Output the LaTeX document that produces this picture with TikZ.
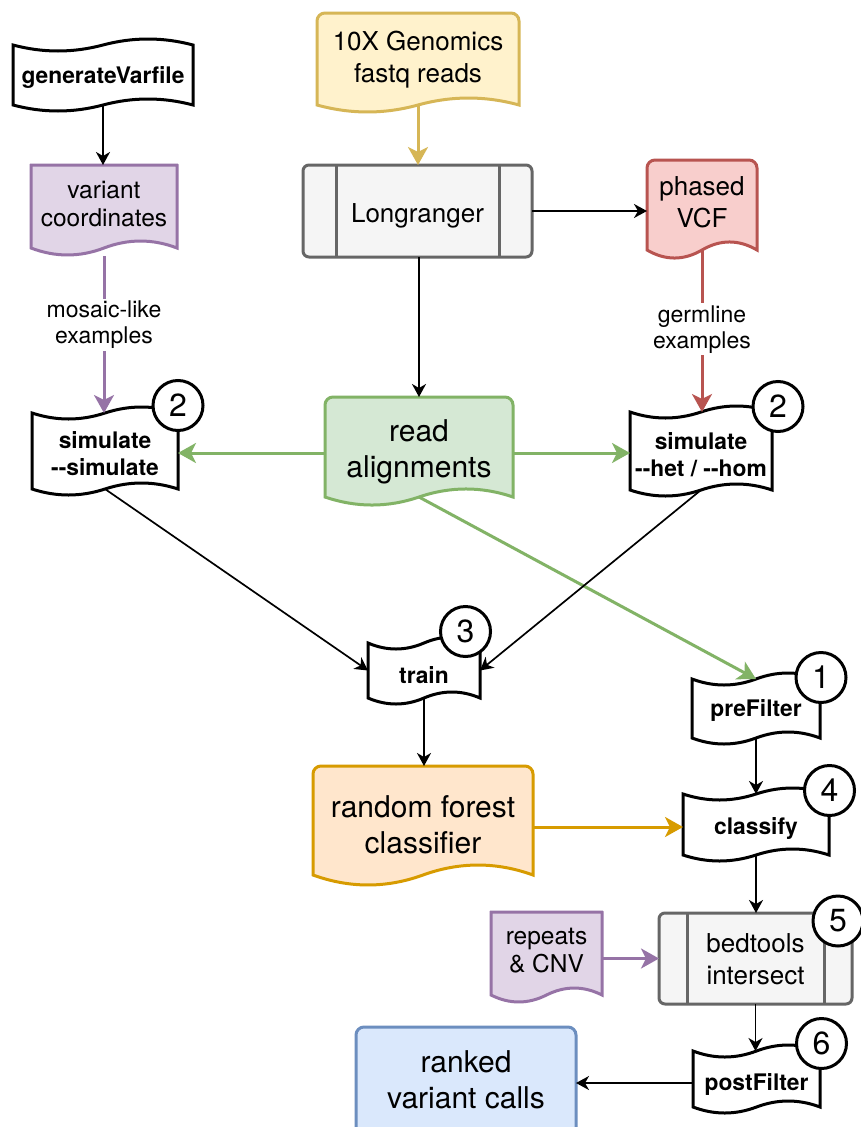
\documentclass[tikz,border=0pt]{standalone}
\usepackage{fontspec}
\setmainfont{TeX Gyre Heros}
\usetikzlibrary{calc,arrows.meta,backgrounds}
\definecolor{purF}{HTML}{E1D5E7}\definecolor{purD}{HTML}{9673A6}
\definecolor{yelF}{HTML}{FFF2CC}\definecolor{yelD}{HTML}{D6B656}
\definecolor{gryF}{HTML}{F5F5F5}\definecolor{gryD}{HTML}{666666}
\definecolor{redF}{HTML}{F8CECC}\definecolor{redD}{HTML}{B85450}
\definecolor{grnF}{HTML}{D5E8D4}\definecolor{grnD}{HTML}{82B366}
\definecolor{orgF}{HTML}{FFE6CC}\definecolor{orgD}{HTML}{D79B00}
\definecolor{bluF}{HTML}{DAE8FC}\definecolor{bluD}{HTML}{6C8EBF}
% tape: #1 node, #2 wave control offset
\newcommand\tapeshape[2]{%
  \path[tapebox] (#1.north west)
   .. controls ($(#1.north west)!1/6!(#1.north east)+(0,#2)$) and ($(#1.north west)!1/3!(#1.north east)+(0,#2)$) .. (#1.north)
   .. controls ($(#1.north west)!2/3!(#1.north east)+(0,-#2)$) and ($(#1.north west)!5/6!(#1.north east)+(0,-#2)$) .. (#1.north east)
   -- (#1.south east)
   .. controls ($(#1.south east)!1/6!(#1.south west)+(0,-#2)$) and ($(#1.south east)!1/3!(#1.south west)+(0,-#2)$) .. (#1.south)
   .. controls ($(#1.south east)!2/3!(#1.south west)+(0,#2)$) and ($(#1.south east)!5/6!(#1.south west)+(0,#2)$) .. (#1.south west)
   -- cycle;}
% document: #1 style, #2 node, #3 wave control offset, #4 corner radius
\newcommand\docshape[4]{%
  \path[#1] (#2.south west) -- ($(#2.north west)+(0,#4)$)
   arc[start angle=180,end angle=90,radius=#4pt] -- ($(#2.north east)+(-#4,0)$)
   arc[start angle=90,end angle=0,radius=#4pt] -- (#2.south east)
   .. controls ($(#2.south east)!1/6!(#2.south west)+(0,-#3)$) and ($(#2.south east)!1/3!(#2.south west)+(0,-#3)$) .. (#2.south)
   .. controls ($(#2.south east)!2/3!(#2.south west)+(0,#3)$) and ($(#2.south east)!5/6!(#2.south west)+(0,#3)$) .. (#2.south west)
   -- cycle;}
\tikzset{
  shp/.style 2 args={rectangle,inner sep=0pt,outer sep=0pt,minimum width=#1pt,minimum height=#2pt},
  boldtxt/.style={align=center,font=\bfseries\fontsize{22.8}{27}\selectfont,inner sep=0pt},
  bigtxt/.style={align=center,font=\fontsize{30}{36}\selectfont,inner sep=0pt},
  medtxt/.style={align=center,font=\fontsize{26}{32}\selectfont,inner sep=0pt},
  smtxt/.style={align=center,font=\fontsize{24.5}{28}\selectfont,inner sep=0pt},
  elabel/.style={fill=white,align=center,font=\fontsize{23}{26}\selectfont,inner sep=2pt},
  tapebox/.style={draw=black,fill=white,line width=3pt},
  docbox/.style 2 args={draw=#1,fill=#2,line width=3pt},
  badge/.style={circle,draw=black,fill=white,line width=3pt,minimum size=50pt,inner sep=0pt,font=\fontsize{32}{38}\selectfont},
  procbox/.style={draw=gryD,fill=gryF,line width=3pt,rounded corners=6pt},
  procline/.style={draw=gryD,line width=3pt},
  conn/.style={draw=black,line width=1.7pt,-{Stealth[length=13pt,width=14pt,inset=4pt]}},
  cconn/.style={draw=#1,line width=3pt,-{Stealth[length=18pt,width=20pt,inset=5pt]}},
}
\begin{document}
\begin{tikzpicture}[x=1pt,y=-1pt]
\useasboundingbox (0,0) rectangle (860,1127);
% nodes
\node[shp={180}{60},label={[boldtxt,yshift=-2.5pt]center:generateVarfile}] (gen) at (103,75) {};
\node[shp={146}{83},label={[smtxt,yshift=2pt]center:variant\\coordinates}] (varc) at (104,206.5) {};
\node[shp={202}{92},label={[medtxt,yshift=-0.5pt]center:10X Genomics\\fastq reads}] (tenx) at (418,59) {};
\node[procbox,shp={229}{92},label={[medtxt,yshift=-5pt]center:Longranger}] (longr) at (417.5,211) {};
\node[shp={110}{90},label={[medtxt,yshift=2.5pt]center:phased\\VCF}] (vcf) at (702,205) {};
\node[shp={146}{76},label={[boldtxt,yshift=-3pt]center:simulate\\-{}-simulate}] (sim1) at (105,451) {};
\node[shp={188}{100},label={[bigtxt,yshift=-4.5pt]center:read\\alignments}] (reads) at (419,447) {};
\node[shp={142}{78},label={[boldtxt,yshift=-4pt]center:simulate\\-{}-het / -{}-hom}] (sim2) at (701,451) {};
\node[shp={112}{55},label={[boldtxt,yshift=-4.5pt]center:train}] (train) at (424,670.5) {};
\node[shp={128}{59},label={[boldtxt,yshift=-1.5pt]center:preFilter}] (pref) at (756,708.5) {};
\node[shp={220}{109},label={[bigtxt,yshift=-4pt]center:random forest\\classifier}] (rf) at (423,820.5) {};
\node[shp={146}{61},label={[boldtxt,yshift=-3.5pt]center:classify}] (cls) at (756,824.5) {};
\node[shp={111}{83},label={[smtxt,yshift=2.5pt]center:repeats\\\& CNV}] (rep) at (546.5,953.5) {};
\node[procbox,shp={193}{91},label={[medtxt,yshift=-0.5pt]center:bedtools\\intersect}] (bed) at (755.5,958.5) {};
\node[shp={127}{56},label={[boldtxt,yshift=-5pt]center:postFilter}] (post) at (756.5,1079) {};
\node[shp={220}{125},label={[bigtxt,yshift=10pt]center:ranked\\variant calls}] (rank) at (466,1089.5) {};
% shapes behind the texts
\begin{pgfonlayer}{background}
  \fill[white] (0,0) rectangle (860,1127);
  \tapeshape{gen}{8}
  \tapeshape{sim1}{8}
  \tapeshape{sim2}{8}
  \tapeshape{train}{8}
  \tapeshape{pref}{8}
  \tapeshape{cls}{8}
  \tapeshape{post}{8}
  \docshape{docbox={purD}{purF}}{varc}{9.3}{0.01}
  \docshape{docbox={yelD}{yelF}}{tenx}{9.3}{8}
  \docshape{docbox={redD}{redF}}{vcf}{10.7}{8}
  \docshape{docbox={grnD}{grnF}}{reads}{10.7}{8}
  \docshape{docbox={orgD}{orgF}}{rf}{13.3}{8}
  \docshape{docbox={purD}{purF}}{rep}{9.3}{0.01}
  \docshape{docbox={bluD}{bluF}}{rank}{13.3}{8}
\end{pgfonlayer}
% process inner lines
\draw[procline] ($(longr.north west)!0.148!(longr.north east)$) -- ($(longr.south west)!0.148!(longr.south east)$);
\draw[procline] ($(longr.north west)!0.858!(longr.north east)$) -- ($(longr.south west)!0.858!(longr.south east)$);
\draw[procline] ($(bed.north west)!0.150!(bed.north east)$) -- ($(bed.south west)!0.150!(bed.south east)$);
\draw[procline] ($(bed.north west)!0.855!(bed.north east)$) -- ($(bed.south west)!0.855!(bed.south east)$);
% badges
\node[badge] (n2a) at (178,405.5) {2};
\node[badge] (n2b) at (778,406.5) {2};
\node[badge] (n3) at (465.5,631.5) {3};
\node[badge] (n1) at (821,677.5) {1};
\node[badge] (n4) at (829.5,790.5) {4};
\node[badge] (n5) at (838,921) {5};
\node[badge] (n6) at (821.5,1043.5) {6};
% connectors
\draw[conn] (gen.south) -- (gen.south |- varc.north);
\draw[cconn=purD] ($(varc.south)+(0,8)$) -- node[elabel,pos=0.44]{mosaic-like\\examples} (varc.south |- sim1.north);
\draw[cconn=yelD] (tenx.south) -- (tenx.south |- longr.north);
\draw[conn] (longr.east) -- (longr.east -| vcf.west);
\draw[cconn=redD] (vcf.south) -- node[elabel,pos=0.49]{germline\\examples} (vcf.south |- sim2.north);
\draw[conn] (reads.north |- longr.south) -- (reads.north);
\draw[cconn=grnD] ($(sim1.east -| reads.west)+(0,2)$) -- ($(sim1.east)+(0,2)$);
\draw[cconn=grnD] ($(sim2.west -| reads.east)+(0,2)$) -- ($(sim2.west)+(0,2)$);
\draw[cconn=grnD] (reads.south) -- (pref.north);
\draw[conn] (sim1.south) -- (train.west);
\draw[conn] (sim2.south) -- (train.east);
\draw[conn] (train.south) -- (train.south |- rf.north);
\draw[cconn=orgD] ($(cls.west -| rf.east)+(0,2.5)$) -- ($(cls.west)+(0,2.5)$);
\draw[conn] (pref.south) -- (cls.north);
\draw[conn] (cls.south) -- (cls.south |- bed.north);
\draw[cconn=purD] (bed.west -| rep.east) -- (bed.west);
\draw[conn] (bed.south) -- (bed.south |- post.north);
\draw[conn] ($(post.west)+(0,4)$) -- ($(post.west -| rank.east)+(0,4)$);
\end{tikzpicture}
\end{document}
